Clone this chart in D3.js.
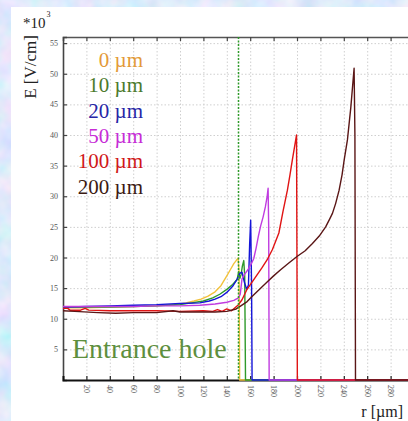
<!DOCTYPE html>
<html>
<head>
<meta charset="utf-8">
<script src="https://cdn.jsdelivr.net/npm/d3@7"></script>
<style>
  html, body { margin: 0; padding: 0; overflow: hidden; background: #fff; }
  svg { display: block; }
</style>
</head>
<body>
<svg id="chart" width="408" height="421"></svg>
<script>
// Electric field E (10^3 V/cm) versus radius r (µm), one profile per hole offset.
const field0um = [[0,11.8],[20,11.8],[40,11.9],[60,12.0],[80,12.1],[95,12.3],[105,12.6],[112,12.9],[118,13.2],[124,13.7],[130,14.4],[135,15.4],[140,17.0],[143,18.0],[146,19.0],[148,19.5],[149.7,19.9],[150.5,17.5],[151,0],[300,0]];
const field10um = [[0,11.9],[20,11.9],[40,11.9],[60,12.0],[80,12.1],[100,12.3],[110,12.6],[120,12.9],[128,13.4],[134,14.0],[140,14.8],[145,15.6],[148.8,16.4],[150.2,17.7],[151.2,16.6],[152.2,17.2],[153.3,18.6],[154.5,19.5],[155.3,17.0],[156,0],[300,0]];
const field20um = [[0,11.9],[20,12.0],[40,12.1],[60,12.2],[80,12.3],[100,12.5],[117,12.6],[125,12.9],[130,13.2],[135,13.6],[140,14.3],[145,15.3],[149,16.5],[151,17.4],[153,17.6],[155,16.0],[157,14.8],[158.5,15.5],[159.5,22.0],[160.4,26.1],[161.2,15.0],[161.6,0],[300,0]];
const field50um = [[0,12.0],[20,12.0],[40,12.0],[60,12.0],[80,12.1],[100,12.1],[117,12.2],[130,12.4],[140,12.7],[146,13.0],[150,13.4],[151.5,14.0],[153,16.5],[155,17.2],[158,18.0],[161,19.0],[163,19.8],[165,21.5],[167,23.5],[169,25.2],[171,26.6],[173,28.3],[174.5,30.0],[175.3,31.3],[175.8,25.0],[176.2,0],[300,0]];
const field100um = [[0,11.7],[4,11.7],[6,11.4],[15,11.4],[19,11.7],[22,11.4],[40,11.3],[60,11.3],[80,11.3],[100,11.2],[120,11.3],[128,11.2],[132,11.5],[136,11.2],[140,11.6],[144,11.3],[147,11.8],[150,12.3],[153,13.1],[157,14.7],[161,15.8],[166,17.2],[170,18.3],[174.4,19.6],[179,21.3],[184.5,24.0],[188,27.5],[191.8,31.0],[194,33.5],[196,35.9],[198.9,39.2],[199.6,40.0],[200.3,0],[300,0]];
const field200um = [[0,11.3],[10,11.2],[30,11.0],[45,10.9],[60,11.0],[80,11.0],[94,11.3],[100,11.1],[120,11.1],[130,11.1],[140,11.2],[148,11.6],[152,12.1],[157.4,12.8],[162,13.7],[168,14.8],[174,15.9],[180,17.0],[186,18.0],[193,19.1],[200.3,20.2],[207,21.1],[213.2,22.3],[219,23.5],[224.5,25.0],[228,26.3],[230.3,27.2],[233,28.8],[236,31.0],[238.5,33.5],[240.3,35.9],[243.1,39.2],[246,44.5],[248.8,50.9],[249.5,40.0],[250,0],[300,0]];

const offsetLabels = ["0 µm", "10 µm", "20 µm", "50 µm", "100 µm", "200 µm"];
const xTicks = [20, 40, 60, 80, 100, 120, 140, 160, 180, 200, 220, 240, 260, 280];
const yTicks = [5, 10, 15, 20, 25, 30, 35, 40, 45, 50, 55];
const entranceHoleR = [150];

const fields = [field0um, field10um, field20um, field50um, field100um, field200um];
const lineColors = ["#f2c23c", "#2f9a2a", "#1414d8", "#c03ce0", "#e01414", "#5a1616"];
const labelColors = ["#e39a38", "#4b7a2c", "#2626a6", "#c62cd6", "#d01818", "#3b1a12"];

const W = 408, H = 421;
const svg = d3.select("#chart");
const serif = "'Liberation Serif', 'Times New Roman', serif";

// mottled slide backdrop
const defs = svg.append("defs");
const f = defs.append("filter").attr("id", "mottle")
  .attr("x", 0).attr("y", 0).attr("width", "100%").attr("height", "100%");
f.append("feTurbulence").attr("type", "fractalNoise").attr("baseFrequency", 0.04)
  .attr("numOctaves", 3).attr("seed", 7).attr("result", "n");
f.append("feColorMatrix").attr("in", "n").attr("type", "matrix")
  .attr("values", "0.6 0 0 0 0.43  0 0.3 0 0 0.67  0 0 0.15 0 0.89  0 0 0 0 1");
svg.append("rect").attr("width", W).attr("height", H).attr("fill", "#bcd4f4").attr("filter", "url(#mottle)");

// white panel
svg.append("rect").attr("x", 11).attr("y", 7).attr("width", W - 11).attr("height", H - 7).attr("fill", "#fff");

const x = d3.scaleLinear().domain([0, 300]).range([63, 414]);
const y = d3.scaleLinear().domain([0, 56]).range([380, 37]);

// grid
const grid = svg.append("g").attr("stroke", "#cfcfcf").attr("stroke-width", 1).attr("stroke-dasharray", "1.5,2");
grid.selectAll("line.gx").data(xTicks).join("line").attr("class", "gx")
  .attr("x1", d => x(d) + 0.5).attr("x2", d => x(d) + 0.5).attr("y1", y(56)).attr("y2", y(0));
grid.selectAll("line.gy").data(yTicks).join("line").attr("class", "gy")
  .attr("x1", x(0)).attr("x2", W).attr("y1", d => y(d) + 0.5).attr("y2", d => y(d) + 0.5);

// top frame with inward ticks
const topAxis = svg.append("g").attr("transform", `translate(0,${y(56)})`)
  .call(d3.axisTop(x).tickValues(xTicks).tickSize(-4).tickFormat(""));
topAxis.select(".domain").attr("stroke", "#555").attr("stroke-width", 1.5);
topAxis.selectAll(".tick line").attr("stroke", "#444").attr("stroke-width", 1.2);

// left axis
const leftAxis = svg.append("g").attr("transform", `translate(${x(0)},0)`)
  .call(d3.axisLeft(y).tickValues(yTicks).tickSize(-4).tickPadding(5));
leftAxis.select(".domain").attr("stroke", "#444").attr("stroke-width", 1.6);
leftAxis.selectAll(".tick line").attr("stroke", "#444").attr("stroke-width", 1.2);
leftAxis.selectAll(".tick text").attr("font-family", serif).attr("font-size", 8).attr("fill", "#555");

// bottom axis with rotated labels
const bottomAxis = svg.append("g").attr("transform", `translate(0,${y(0)})`)
  .call(d3.axisBottom(x).tickValues(xTicks).tickSize(-4));
bottomAxis.select(".domain").attr("stroke", "#111").attr("stroke-width", 2);
bottomAxis.selectAll(".tick line").attr("stroke", "#222").attr("stroke-width", 1.2);
bottomAxis.selectAll(".tick text")
  .attr("font-family", serif).attr("font-size", 8).attr("fill", "#555")
  .attr("transform", "rotate(90)").attr("x", 5).attr("y", 0).attr("dy", "0.35em")
  .attr("text-anchor", "start");

// field curves
const line = d3.line().x(d => x(d[0])).y(d => y(d[1]));
svg.append("g").selectAll("path").data(fields).join("path")
  .attr("d", line).attr("fill", "none")
  .attr("stroke", (d, i) => lineColors[i]).attr("stroke-width", 1.4)
  .attr("stroke-linejoin", "round");

// entrance hole edge
svg.selectAll("line.hole").data(entranceHoleR).join("line").attr("class", "hole")
  .attr("x1", d => x(d)).attr("x2", d => x(d)).attr("y1", y(56)).attr("y2", y(0))
  .attr("stroke", "#2f9a2a").attr("stroke-width", 1.5).attr("stroke-dasharray", "2,1.5");

// legend
svg.append("g").selectAll("text").data(offsetLabels).join("text")
  .attr("x", 143).attr("y", (d, i) => 67 + i * 25.3)
  .attr("text-anchor", "end").attr("font-family", serif).attr("font-size", 21)
  .attr("fill", (d, i) => labelColors[i]).text(d => d);

svg.append("text").attr("x", 72).attr("y", 358)
  .attr("font-family", serif).attr("font-size", 28).attr("fill", "#5e8f3e")
  .text("Entrance hole");

// axis titles
const mult = svg.append("text").attr("x", 23).attr("y", 28)
  .attr("font-family", serif).attr("font-size", 15).attr("fill", "#222");
mult.append("tspan").text("*10");
mult.append("tspan").attr("font-size", 8).attr("dy", -11).attr("dx", 1).text("3");

svg.append("text").attr("transform", "translate(36,67) rotate(-90)")
  .attr("text-anchor", "middle").attr("font-family", serif).attr("font-size", 17)
  .attr("fill", "#222").text("E [V/cm]");

svg.append("text").attr("x", 403).attr("y", 417).attr("text-anchor", "end")
  .attr("font-family", serif).attr("font-size", 16).attr("fill", "#222")
  .text("r [µm]");
</script>
</body>
</html>
